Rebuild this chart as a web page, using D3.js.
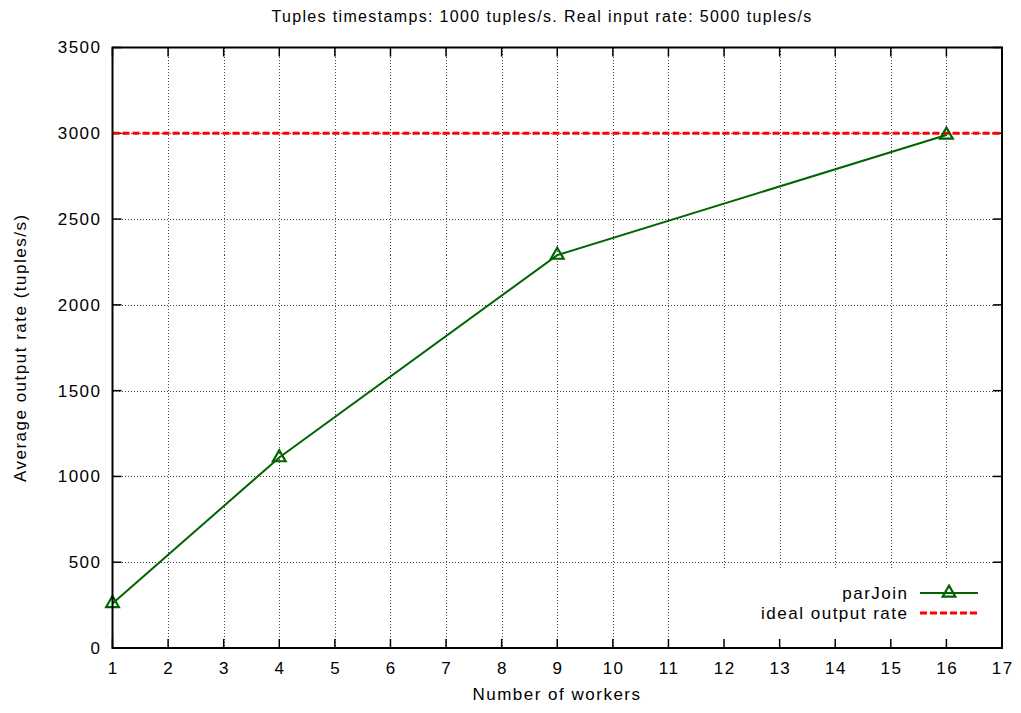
<!DOCTYPE html>
<html>
<head>
<meta charset="utf-8">
<script src="https://cdn.jsdelivr.net/npm/d3@7"></script>
<style>
  body { margin: 0; background: #fff; }
  text { font-family: "Liberation Sans", Arial, sans-serif; font-size: 17px; letter-spacing: 1.5px; fill: #000; }
  text.title { font-size: 16px; letter-spacing: 1.35px; }
</style>
</head>
<body>
<div id="chart"></div>
<script>
// data
const workers = [1, 4, 9, 16];
const parJoin = [260, 1110, 2290, 2990];
const idealRate = 3000;
const xTicks = d3.range(1, 18);
const yTicks = [0, 500, 1000, 1500, 2000, 2500, 3000, 3500];

const width = 1021;
const height = 713;
const margin = { top: 47.5, right: 19, bottom: 65, left: 112.5 };

const svg = d3.select("#chart").append("svg")
  .attr("width", width)
  .attr("height", height);

const x = d3.scaleLinear().domain([1, 17]).range([margin.left, width - margin.right]);
const y = d3.scaleLinear().domain([0, 3500]).range([height - margin.bottom, margin.top]);

const x0 = x.range()[0], x1 = x.range()[1];
const y0 = y.range()[0], y1 = y.range()[1];

// grid
const gGrid = svg.append("g").attr("class", "grid")
  .attr("stroke", "#444").attr("stroke-width", 1).attr("stroke-dasharray", "1,2")
  .attr("shape-rendering", "crispEdges");
gGrid.selectAll(".vx").data(xTicks.filter(d => d > 1 && d < 17)).join("line")
  .attr("x1", d => Math.round(x(d)) + 0.5).attr("x2", d => Math.round(x(d)) + 0.5)
  .attr("y1", y1).attr("y2", y0);
gGrid.selectAll(".hy").data(yTicks.filter(d => d > 0 && d < 3500)).join("line")
  .attr("x1", x0).attr("x2", x1)
  .attr("y1", d => Math.round(y(d)) + 0.5).attr("y2", d => Math.round(y(d)) + 0.5);

// key area blanks the grid
svg.append("rect")
  .attr("x", x(12) - 10).attr("y", y(460))
  .attr("width", x1 - x(12) + 10).attr("height", y0 - y(460))
  .attr("fill", "#fff");

// ticks (inside, mirrored)
const gTicks = svg.append("g").attr("stroke", "#000").attr("stroke-width", 1.5);
const tl = 9;
xTicks.forEach(d => {
  gTicks.append("line").attr("x1", x(d)).attr("x2", x(d)).attr("y1", y0).attr("y2", y0 - tl);
  gTicks.append("line").attr("x1", x(d)).attr("x2", x(d)).attr("y1", y1).attr("y2", y1 + tl);
});
yTicks.forEach(d => {
  gTicks.append("line").attr("x1", x0).attr("x2", x0 + tl).attr("y1", y(d)).attr("y2", y(d));
  gTicks.append("line").attr("x1", x1).attr("x2", x1 - tl).attr("y1", y(d)).attr("y2", y(d));
});

// tick labels
svg.append("g").selectAll("text").data(xTicks).join("text")
  .attr("x", d => x(d) + 0.75).attr("y", y0 + 26)
  .attr("text-anchor", "middle").text(d => d);
svg.append("g").selectAll("text").data(yTicks).join("text")
  .attr("x", x0 - 11).attr("y", d => y(d)).attr("dy", "0.35em")
  .attr("text-anchor", "end").text(d => d);

// ideal line
svg.append("line")
  .attr("x1", x0).attr("x2", x1)
  .attr("y1", y(idealRate)).attr("y2", y(idealRate))
  .attr("stroke", "#ff0000").attr("stroke-width", 3).attr("stroke-dasharray", "7,3");

// parJoin series
const green = "#006400";
const line = d3.line().x((d, i) => x(workers[i])).y(d => y(d));
svg.append("path")
  .attr("d", line(parJoin))
  .attr("fill", "none").attr("stroke", green).attr("stroke-width", 2);

const tri = d3.symbol().type(d3.symbolTriangle).size(70);
svg.append("g").selectAll("path").data(parJoin).join("path")
  .attr("transform", (d, i) => `translate(${x(workers[i])},${y(d)})`)
  .attr("d", tri)
  .attr("fill", "none").attr("stroke", green).attr("stroke-width", 2.2);

// frame
svg.append("rect")
  .attr("x", x0).attr("y", y1).attr("width", x1 - x0).attr("height", y0 - y1)
  .attr("fill", "none").attr("stroke", "#000").attr("stroke-width", 2);

// legend
const legend = [
  { name: "parJoin", color: green, dash: null, marker: true },
  { name: "ideal output rate", color: "#ff0000", dash: "7,3", marker: false, width: 3 }
];
const gLegend = svg.append("g");
legend.forEach((d, i) => {
  const ly = 593 + i * 20;
  gLegend.append("text").attr("x", 908.5).attr("y", ly).attr("dy", "0.35em")
    .attr("text-anchor", "end").text(d.name);
  gLegend.append("line").attr("x1", 920).attr("x2", 978).attr("y1", ly).attr("y2", ly)
    .attr("stroke", d.color).attr("stroke-width", d.width || 2)
    .attr("stroke-dasharray", d.dash);
  if (d.marker) {
    gLegend.append("path").attr("transform", `translate(949,${ly})`).attr("d", tri)
      .attr("fill", "none").attr("stroke", d.color).attr("stroke-width", 2.2);
  }
});

// titles
svg.append("text").attr("class", "title").attr("x", 542).attr("y", 22).attr("text-anchor", "middle")
  .text("Tuples timestamps: 1000 tuples/s. Real input rate: 5000 tuples/s");
svg.append("text").attr("x", 557).attr("y", 700).attr("text-anchor", "middle")
  .text("Number of workers");
svg.append("text").attr("transform", `translate(26,${(y0 + y1) / 2}) rotate(-90)`)
  .attr("text-anchor", "middle").text("Average output rate (tuples/s)");
</script>
</body>
</html>
